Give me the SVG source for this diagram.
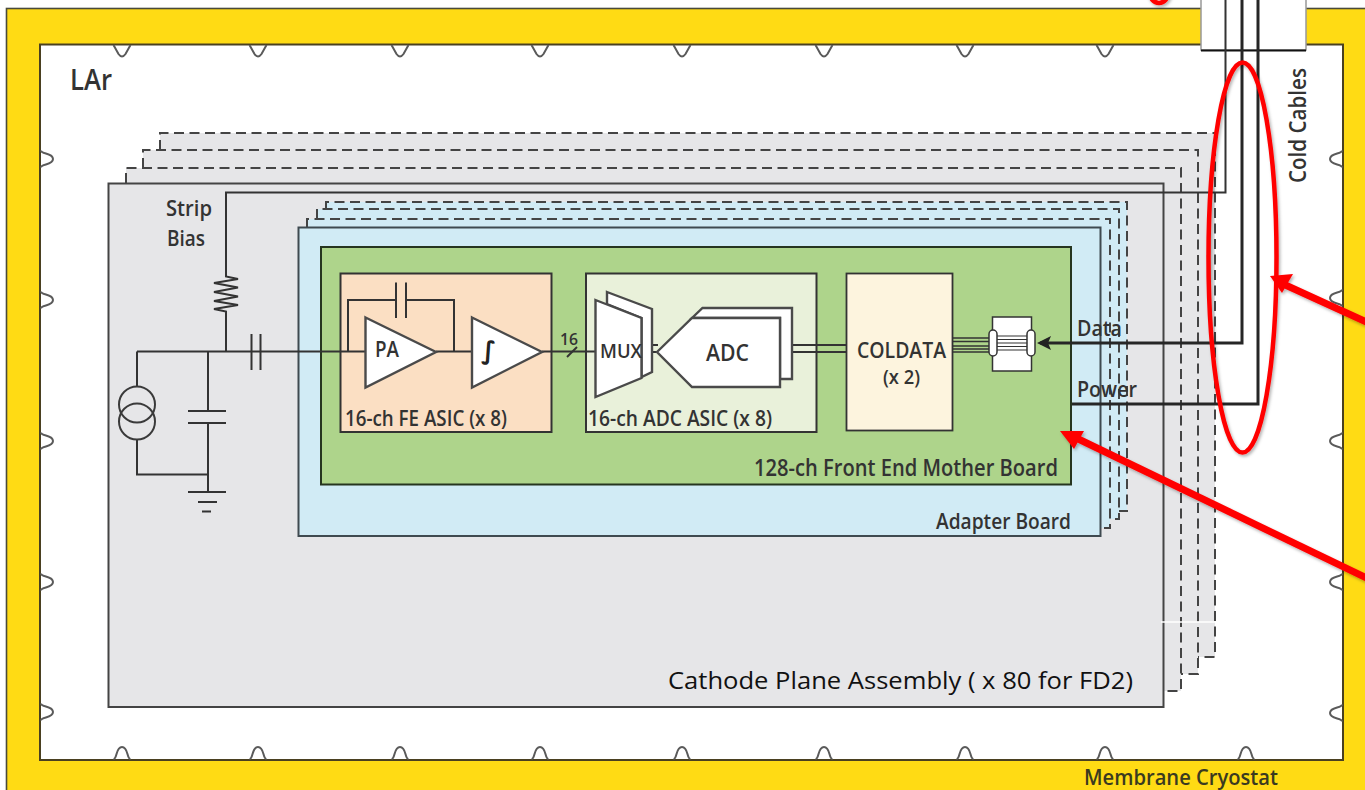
<svg xmlns="http://www.w3.org/2000/svg" width="1365" height="790" viewBox="0 0 1365 790">
<style>
text{font-family:"Open Sans","Liberation Sans",sans-serif;fill:#333;font-weight:600}
.w{fill:none;stroke:#333;stroke-width:2}
.t{fill:none;stroke:#262626;stroke-width:3}
.d{fill:none;stroke:#444;stroke-width:2;stroke-dasharray:10 5.5}
.bump{fill:none;stroke:#5a5a5a;stroke-width:2}
.gate{fill:#fff;stroke:#4a4a4a;stroke-width:2.400}
.red{fill:none;stroke:#f00;stroke-width:4.500}
.ra{fill:none;stroke:#f00;stroke-width:7}
</style>
<defs>
<path id="bu" class="bump" d="M-8.500 0C-4.500 0-6.500 12 0 12C6.500 12 4.500 0 8.500 0"/>
<path id="bv" class="bump" d="M-8.500 0L-3.500 9Q0 14 3.500 9L8.500 0"/>
<filter id="sh" x="-10%" y="-10%" width="120%" height="120%"><feDropShadow dx="1.5" dy="2" stdDeviation="1.5" flood-color="#000" flood-opacity=".3"/></filter>
</defs>
<rect width="1365" height="790" fill="#fff"/>
<g id="cryostat">
<rect x="6.500" y="8.500" width="1370" height="800" fill="#ffdb14" stroke="#4a4a3a" stroke-width="1.600"/>
<rect x="40" y="44.500" width="1303" height="715.500" fill="#fff" stroke="#4a4020" stroke-width="2"/>
<g id="bumps">
<use href="#bv" transform="translate(122 45)"/><use href="#bv" transform="translate(258 45)"/><use href="#bv" transform="translate(400 45)"/><use href="#bv" transform="translate(540 45)"/><use href="#bv" transform="translate(682 45)"/><use href="#bv" transform="translate(824 45)"/><use href="#bv" transform="translate(965 45)"/><use href="#bv" transform="translate(1105 45)"/>
<use href="#bu" transform="translate(122 759) scale(1 -1)"/><use href="#bu" transform="translate(258 759) scale(1 -1)"/><use href="#bu" transform="translate(400 759) scale(1 -1)"/><use href="#bu" transform="translate(540 759) scale(1 -1)"/><use href="#bu" transform="translate(682 759) scale(1 -1)"/><use href="#bu" transform="translate(824 759) scale(1 -1)"/><use href="#bu" transform="translate(965 759) scale(1 -1)"/><use href="#bu" transform="translate(1105 759) scale(1 -1)"/><use href="#bu" transform="translate(1246 759) scale(1 -1)"/>
<use href="#bu" transform="translate(41 159) rotate(-90)"/><use href="#bu" transform="translate(41 300) rotate(-90)"/><use href="#bu" transform="translate(41 441) rotate(-90)"/><use href="#bu" transform="translate(41 582) rotate(-90)"/><use href="#bu" transform="translate(41 712) rotate(-90)"/>
<use href="#bu" transform="translate(1342 159) rotate(90)"/><use href="#bu" transform="translate(1342 298) rotate(90)"/><use href="#bu" transform="translate(1342 441) rotate(90)"/><use href="#bu" transform="translate(1342 582) rotate(90)"/><use href="#bu" transform="translate(1342 713) rotate(90)"/>
</g>
<text x="70" y="90" font-size="28" textLength="42" lengthAdjust="spacingAndGlyphs">LAr</text>
<text x="1084" y="785" font-size="22" textLength="194" lengthAdjust="spacingAndGlyphs" style="fill:#3a3a20">Membrane Cryostat</text>
</g>
<g id="feedthrough">
<rect x="1201" y="-2" width="105" height="52" fill="#fff" stroke="#999" stroke-width="1.500"/>
<path d="M1201 50.500H1306" stroke="#111" stroke-width="2"/>
<text transform="translate(1306 183) rotate(-90)" font-size="23" textLength="115" lengthAdjust="spacingAndGlyphs">Cold Cables</text>
</g>
<g id="cpa-stack">
<path d="M126 183V168H143V150H160V133H1215V657H1198V674H1181V691H1164V707H126Z" fill="#e6e6e8"/>
<path class="d" d="M126 183V168H1181V691H1164"/>
<path class="d" d="M143 168V150H1198V674H1181"/>
<path class="d" d="M160 150V133H1215V657H1198"/>
</g>
<g id="cpa">
<rect x="108.500" y="183.500" width="1055" height="523.500" fill="#e6e6e8" stroke="#444" stroke-width="2"/>
<path d="M1161 622H1216" stroke="#fff" stroke-width="1.300"/>
<text x="668" y="689" font-size="24" textLength="465" lengthAdjust="spacingAndGlyphs" style="fill:#111;font-weight:400">Cathode Plane Assembly ( x 80 for FD2)</text>
<text x="166" y="216" font-size="22" textLength="46" lengthAdjust="spacingAndGlyphs">Strip</text>
<text x="167" y="246" font-size="22" textLength="38" lengthAdjust="spacingAndGlyphs">Bias</text>
</g>
<g id="adapter-stack">
<path d="M307 227V219H317V209H326V202H1127V511H1119V519H1110V528H1100V536H298V227Z" fill="#d1ebf5"/>
<path class="d" d="M307 227V219H1110V528H1100"/>
<path class="d" d="M317 219V209H1119V519H1110"/>
<path class="d" d="M326 209V202H1127V511H1119"/>
</g>
<g id="adapter">
<rect x="298.500" y="227.500" width="802" height="308.500" fill="#d1ebf5" stroke="#3f4a50" stroke-width="2"/>
<text x="936" y="529" font-size="22" textLength="135" lengthAdjust="spacingAndGlyphs">Adapter Board</text>
</g>
<g id="motherboard">
<rect x="321" y="247" width="750" height="237.500" fill="#aed48b" stroke="#26351f" stroke-width="2"/>
<text x="754" y="476" font-size="23" textLength="304" lengthAdjust="spacingAndGlyphs">128-ch Front End Mother Board</text>
</g>
<g id="fe-asic">
<rect x="340.500" y="273.500" width="211" height="158.500" fill="#fbdfc3" stroke="#333" stroke-width="2"/>
<text x="345" y="426" font-size="22" textLength="162" lengthAdjust="spacingAndGlyphs">16-ch FE ASIC (x 8)</text>
</g>
<g id="adc-asic">
<rect x="586" y="273.500" width="230.500" height="158.500" fill="#e9f1da" stroke="#333" stroke-width="2"/>
<text x="588" y="426" font-size="22" textLength="184" lengthAdjust="spacingAndGlyphs">16-ch ADC ASIC (x 8)</text>
</g>
<g id="coldata">
<rect x="846.500" y="273.500" width="106" height="157" fill="#fdf4de" stroke="#333" stroke-width="1.800"/>
<text x="857" y="358" font-size="21" textLength="89" lengthAdjust="spacingAndGlyphs">COLDATA</text>
<text x="883" y="384" font-size="19" textLength="37" lengthAdjust="spacingAndGlyphs">(x 2)</text>
</g>
<g id="connectors">
<path class="w" d="M137 351.500H365M436 351.500H472M542 351.500H595"/>
<path class="w" d="M348 351.500V300H396M406 300H454V351.500"/>
<path class="w" d="M396 282.500V318M406 282.500V318"/>
<path class="w" d="M251.500 334V370M260.500 334V370"/>
<path class="w" d="M137 351.500V387M137 440V474.500H208M208 351.500V411M208 423V492M188 411H226M188 423H226M188 492H226M198 502H217M202 511.500H211"/>
<path class="w" d="M226 351.500V311.500L214 309L238 305L214 301L238 296.500L214 292L238 287.500L214 283L238 279L226 276.500V192.500H1225.500V0"/>
<path class="w" d="M567 357L577 347"/>
<path class="w" d="M652 345H658M652 352H658"/>
<path class="w" d="M780 352H846M792 345H846"/>
<path class="w" style="stroke-width:1.500" d="M952 338H992M952 341.500H992M952 346H992M952 349H992M952 352H992"/>
<path class="t" d="M1040 343H1242V0"/>
<path d="M1037 343L1051 336L1048 343L1051 350Z" fill="#222"/>
<path class="t" d="M1072 404H1258V0"/>
</g>
<g id="circuit-source">
<circle cx="137" cy="404.500" r="18" fill="none" stroke="#3a3a3a" stroke-width="2"/>
<circle cx="137" cy="421.500" r="18" fill="none" stroke="#3a3a3a" stroke-width="2"/>
</g>
<g id="pa">
<path class="gate" d="M365.500 317.500L436 352L365.500 387.500Z"/>
<text x="375" y="357" font-size="21" textLength="24" lengthAdjust="spacingAndGlyphs">PA</text>
</g>
<g id="integrator">
<path class="gate" d="M472 317.500L542 352L472 387.500Z"/>
<text x="481" y="359" font-size="25" style="font-family:'DejaVu Sans',sans-serif;font-style:italic;fill:#222">∫</text>
</g>
<text x="560" y="345" font-size="17" textLength="18" lengthAdjust="spacingAndGlyphs">16</text>
<g id="mux">
<path class="gate" d="M607 292L652 309V372L641.500 377V318L607 304Z"/>
<path class="gate" d="M595.500 300L641.500 318V378L595.500 397Z"/>
<text x="600" y="358" font-size="19" textLength="42" lengthAdjust="spacingAndGlyphs">MUX</text>
</g>
<g id="adc">
<path class="gate" d="M692 318L702.500 308H792V379H780V318Z"/>
<path class="gate" d="M657 352L692 318H780V387H692Z"/>
<text x="706" y="361" font-size="24" textLength="43" lengthAdjust="spacingAndGlyphs">ADC</text>
</g>
<g id="connector-plug">
<rect x="992.500" y="317" width="39" height="54" fill="#fff" stroke="#333" stroke-width="1.500"/>
<path d="M994 336H1030M994 339.500H1030M994 343H1030M994 346.500H1030M994 350H1030" stroke="#333" stroke-width="1.200"/>
<rect x="989" y="330" width="8" height="26" rx="4" fill="#fff" stroke="#333" stroke-width="1.500"/>
<rect x="1027" y="330" width="8" height="26" rx="4" fill="#fff" stroke="#333" stroke-width="1.500"/>
</g>
<text x="1077" y="336" font-size="21" textLength="45" lengthAdjust="spacingAndGlyphs">Data</text>
<text x="1077" y="397" font-size="21" textLength="60" lengthAdjust="spacingAndGlyphs">Power</text>
<g id="annotations" filter="url(#sh)">
<ellipse class="red" cx="1242.500" cy="257.500" rx="34" ry="195"/>
<ellipse class="red" cx="1159" cy="-8" rx="9.500" ry="11"/>
<path class="ra" d="M1281 283L1375 326"/>
<path d="M1270 276L1293 274L1282 293Z" fill="#f00"/>
<path class="ra" d="M1070 435L1375 582"/>
<path d="M1060 431L1084 431L1074 449Z" fill="#f00"/>
</g>
</svg>
